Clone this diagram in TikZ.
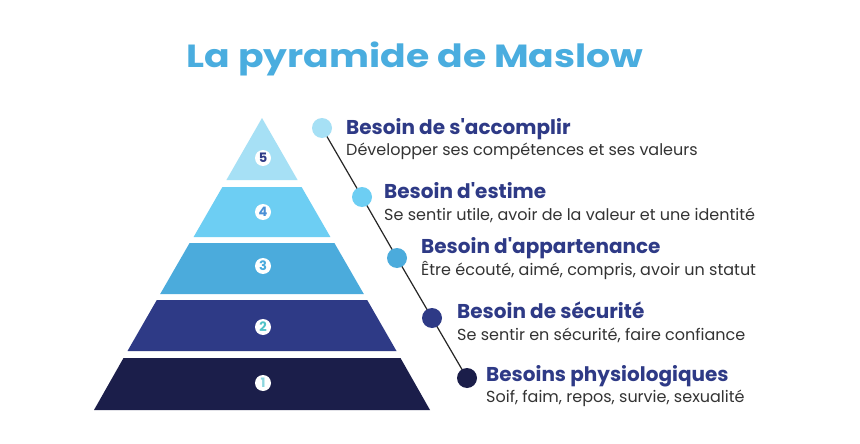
\documentclass[tikz,border=0pt]{standalone}
\usepackage{fontspec}
\usetikzlibrary{backgrounds}
\setmainfont{Poppins}
\newfontfamily\titlefont{Poppins}[UprightFont=* Bold,FakeStretch=1.18]
\newfontfamily\numfont{Poppins}[UprightFont=* Bold]
\definecolor{tfive}{HTML}{A6E0F5}
\definecolor{tfour}{HTML}{6DCEF3}
\definecolor{tthree}{HTML}{4BABDC}
\definecolor{ttwo}{HTML}{2E3A86}
\definecolor{tone}{HTML}{1B1E4A}
\definecolor{titlec}{HTML}{4AADDF}
\definecolor{headc}{HTML}{2E3A86}
\definecolor{subc}{HTML}{333333}
\definecolor{nfive}{HTML}{2E3A86}
\definecolor{nfour}{HTML}{4A8FD6}
\definecolor{nthree}{HTML}{4BABDC}
\definecolor{ntwo}{HTML}{4FC3C8}
\definecolor{none}{HTML}{8CD6DE}
\begin{document}
\begin{tikzpicture}[x=1pt,y=-1pt,
  numc/.style={circle,fill=white,inner sep=0pt,minimum size=16pt,font=\numfont\fontsize{13}{13}\selectfont},
  dotc/.style={circle,inner sep=0pt,minimum size=20pt},
  head/.style={anchor=base west,inner sep=0pt,text=headc,font=\bfseries\fontsize{20}{20}\selectfont},
  sub/.style={anchor=base west,inner sep=0pt,text=subc,font=\fontsize{16}{16}\selectfont}]
\useasboundingbox (0,0) rectangle (860,444);
% title
\node[anchor=base,inner sep=0pt,text=titlec,font=\titlefont\fontsize{32}{32}\selectfont] (title) at (415,67) {La pyramide de Maslow};
% pyramid tiers (center 262, half-width 0.575*(y-118))
\fill[tfive] (262,118) -- (297.6,180) -- (226.4,180) -- cycle;
\fill[tfour] (222.4,187) -- (301.6,187) -- (330.4,237) -- (193.6,237) -- cycle;
\fill[tthree] (189.6,243) -- (334.4,243) -- (363.8,294) -- (160.2,294) -- cycle;
\fill[ttwo] (156.8,300) -- (367.2,300) -- (396.5,351) -- (127.5,351) -- cycle;
\fill[tone] (123.5,358) -- (400.5,358) -- (430,410) -- (94,410) -- cycle;
% numbers
\node[numc,text=nfive] (n5) at (263,158) {5};
\node[numc,text=nfour] (n4) at (263,212) {4};
\node[numc,text=nthree] (n3) at (263,266) {3};
\node[numc,text=ntwo] (n2) at (263,327) {2};
\node[numc,text=none] (n1) at (263,383) {1};
% dots
\node[dotc,fill=tfive] (d5) at (322,128) {};
\node[dotc,fill=tfour] (d4) at (362,197) {};
\node[dotc,fill=tthree] (d3) at (397,258) {};
\node[dotc,fill=ttwo] (d2) at (432,318) {};
\node[dotc,fill=tone] (d1) at (467,378) {};
% background and connector
\begin{scope}[on background layer]
\fill[white] (0,0) rectangle (860,444);
\draw[line width=1.2pt,black!85] (d5.center) -- (d4.center) -- (d3.center) -- (d2.center) -- (d1.center);
\end{scope}
% texts
\node[head] (h5) at (346,134) {Besoin de s\textquotesingle accomplir};
\node[sub] (s5) at (346,155) {Développer ses compétences et ses valeurs};
\node[head] (h4) at (384,198) {Besoin d\textquotesingle estime};
\node[sub] (s4) at (384,220) {Se sentir utile, avoir de la valeur et une identité};
\node[head] (h3) at (421,253) {Besoin d\textquotesingle appartenance};
\node[sub] (s3) at (421,275) {Être écouté, aimé, compris, avoir un statut};
\node[head] (h2) at (457,318) {Besoin de sécurité};
\node[sub] (s2) at (457,340) {Se sentir en sécurité, faire confiance};
\node[head] (h1) at (486,381) {Besoins physiologiques};
\node[sub] (s1) at (486,402) {Soif, faim, repos, survie, sexualité};
\end{tikzpicture}
\end{document}
